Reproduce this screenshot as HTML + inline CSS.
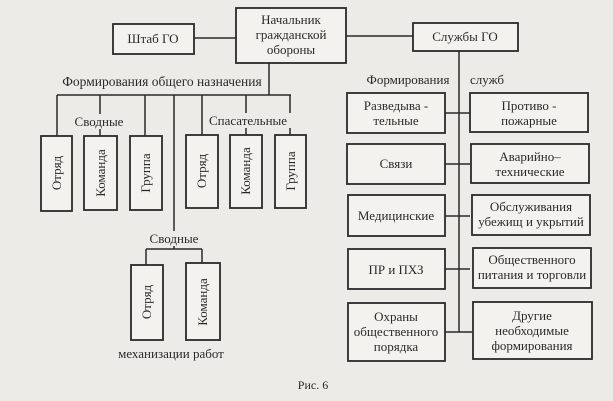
<!DOCTYPE html>
<html><head><meta charset="utf-8"><style>
body{margin:0;background:#ecebe7;}
svg{display:block}
text{font-family:"Liberation Serif",serif;font-size:13px;fill:#2a2a2a}
.b{fill:#f3f2ee;stroke:#2a2a2a;stroke-width:1.8}
.l{stroke:#2a2a2a;stroke-width:1.5;fill:none}
.bg{fill:#ecebe7}
</style></head><body>
<svg width="613" height="401" viewBox="0 0 613 401">
<path class="l" d="M194 38H236 M346 36H413 M269 63V95 M57 95H291 M57 95V136 M100 95V136 M145 95V136 M174 95V249 M202 95V135 M246 95V135 M290 95V135 M146 249H202 M146 249V265 M202 249V263 M459 51V332"/>
<rect class="b" x="113" y="24" width="81" height="30"/>
<text x="153" y="43" text-anchor="middle">Штаб ГО</text>
<rect class="b" x="236" y="8" width="110" height="55"/>
<text x="291" y="24" text-anchor="middle">Начальник</text>
<text x="291" y="39" text-anchor="middle">гражданской</text>
<text x="291" y="54" text-anchor="middle">обороны</text>
<rect class="b" x="413" y="23" width="105" height="28"/>
<text x="465" y="41" text-anchor="middle">Службы ГО</text>
<text x="162" y="86" text-anchor="middle" style="font-size:13.5px">Формирования общего назначения</text>
<rect class="bg" x="70" y="114" width="58" height="15"/>
<text x="99" y="126" text-anchor="middle">Сводные</text>
<rect class="bg" x="205" y="113" width="86" height="15"/>
<text x="248" y="125" text-anchor="middle">Спасательные</text>
<rect class="b" x="41" y="136" width="31" height="75"/>
<rect class="b" x="84" y="136" width="33" height="74"/>
<rect class="b" x="130" y="136" width="32" height="74"/>
<rect class="b" x="186" y="135" width="32" height="73"/>
<rect class="b" x="230" y="135" width="32" height="73"/>
<rect class="b" x="275" y="135" width="31" height="73"/>
<text transform="translate(61,173) rotate(-90)" text-anchor="middle">Отряд</text>
<text transform="translate(105,173) rotate(-90)" text-anchor="middle">Команда</text>
<text transform="translate(150,173) rotate(-90)" text-anchor="middle">Группа</text>
<text transform="translate(206,171) rotate(-90)" text-anchor="middle">Отряд</text>
<text transform="translate(250,171) rotate(-90)" text-anchor="middle">Команда</text>
<text transform="translate(295,171) rotate(-90)" text-anchor="middle">Группа</text>
<rect class="bg" x="146" y="231" width="56" height="15"/>
<text x="174" y="243" text-anchor="middle">Сводные</text>
<rect class="b" x="131" y="265" width="32" height="75"/>
<rect class="b" x="186" y="263" width="34" height="77"/>
<text transform="translate(151,302) rotate(-90)" text-anchor="middle">Отряд</text>
<text transform="translate(207,302) rotate(-90)" text-anchor="middle">Команда</text>
<text x="171" y="358" text-anchor="middle">механизации  работ</text>
<text x="408" y="84" text-anchor="middle">Формирования</text>
<text x="487" y="84" text-anchor="middle">служб</text>
<path class="l" d="M445 113H470 M445 164H470 M445 216H470 M445 269H470 M445 332H472"/>
<rect class="b" x="347" y="93" width="98" height="40"/>
<text x="396" y="110" text-anchor="middle">Разведыва -</text>
<text x="396" y="125" text-anchor="middle">тельные</text>
<rect class="b" x="470" y="93" width="118" height="39"/>
<text x="529" y="110" text-anchor="middle">Противо -</text>
<text x="529" y="125" text-anchor="middle">пожарные</text>
<rect class="b" x="347" y="144" width="98" height="40"/>
<text x="396" y="168" text-anchor="middle">Связи</text>
<rect class="b" x="471" y="144" width="118" height="39"/>
<text x="530" y="161" text-anchor="middle">Аварийно–</text>
<text x="530" y="176" text-anchor="middle">технические</text>
<rect class="b" x="348" y="195" width="97" height="41"/>
<text x="396" y="220" text-anchor="middle">Медицинские</text>
<rect class="b" x="472" y="195" width="118" height="40"/>
<text x="531" y="211" text-anchor="middle">Обслуживания</text>
<text x="531" y="226" text-anchor="middle">убежищ и укрытий</text>
<rect class="b" x="348" y="249" width="97" height="40"/>
<text x="396" y="274" text-anchor="middle">ПР и ПХЗ</text>
<rect class="b" x="473" y="248" width="118" height="40"/>
<text x="532" y="264" text-anchor="middle">Общественного</text>
<text x="532" y="279" text-anchor="middle">питания и торговли</text>
<rect class="b" x="348" y="303" width="97" height="58"/>
<text x="396" y="321" text-anchor="middle">Охраны</text>
<text x="396" y="336" text-anchor="middle">общественного</text>
<text x="396" y="351" text-anchor="middle">порядка</text>
<rect class="b" x="473" y="302" width="119" height="57"/>
<text x="532" y="320" text-anchor="middle">Другие</text>
<text x="532" y="335" text-anchor="middle">необходимые</text>
<text x="532" y="350" text-anchor="middle">формирования</text>
<text x="313" y="389" text-anchor="middle" style="font-size:12px">Рис. 6</text>
</svg>
</body></html>
